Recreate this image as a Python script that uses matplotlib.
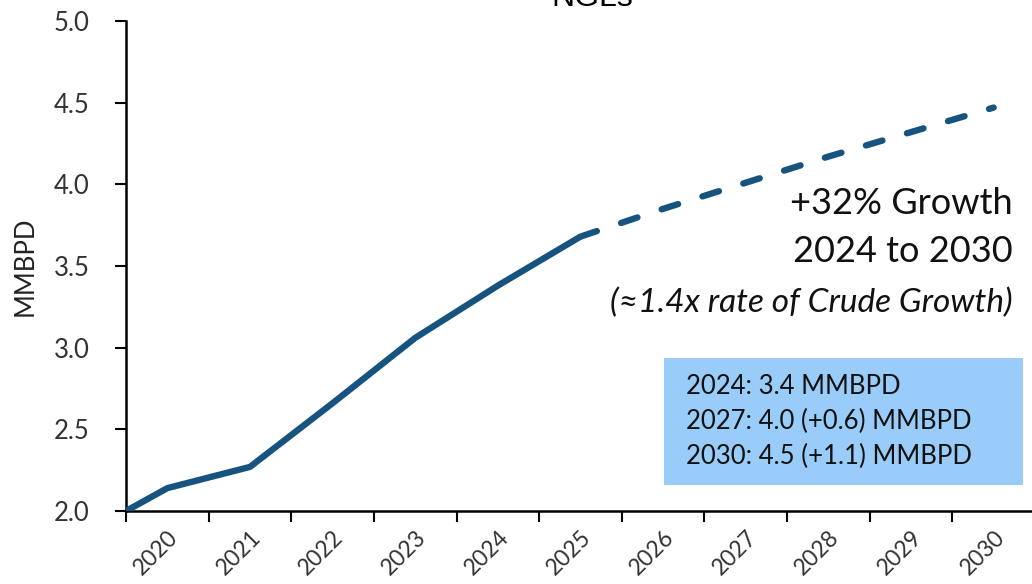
import matplotlib
matplotlib.use("Agg")
import matplotlib.pyplot as plt
from matplotlib.patches import Rectangle

# data (MMBPD)
actual_x = [2019.5, 2020, 2021, 2022, 2023, 2024, 2025]
actual_y = [2.00, 2.14, 2.27, 2.66, 3.06, 3.38, 3.68]
fcst_x = [2025, 2026, 2027, 2028, 2029, 2030]
fcst_y = [3.68, 3.85, 4.01, 4.17, 4.32, 4.47]
years = list(range(2020, 2031))
box_lines = ["2024: 3.4 MMBPD", "2027: 4.0 (+0.6) MMBPD", "2030: 4.5 (+1.1) MMBPD"]

plt.rcParams['font.family'] = ['Lato', 'DejaVu Sans']
navy = '#17537f'
W, H = 1032, 584

fig = plt.figure(figsize=(W / 100, H / 100), dpi=100)
ax = fig.add_axes([126 / W, (H - 511) / H, (1035 - 126) / W, (511 - 21) / H])
ax.set_facecolor('none')

ax.plot(actual_x, actual_y, color=navy, lw=4.6, solid_capstyle='butt', solid_joinstyle='round', zorder=3)
ax.plot(fcst_x, fcst_y, color=navy, lw=4.6, dashes=(2.7, 4.0), dash_capstyle='round', zorder=3)

ax.set_xlim(2019.5, 2030.5)
ax.set_ylim(2.0, 5.0)
ax.set_yticks([2.0, 2.5, 3.0, 3.5, 4.0, 4.5, 5.0])
ax.set_yticklabels(['%.1f' % v for v in ax.get_yticks()])
ax.set_xticks([y - 0.5 for y in years] + [2030.5])
ax.set_xticklabels([])
ax.set_xticks(years, minor=True)
ax.set_xticklabels([str(y) for y in years], minor=True, rotation=45,
                   ha='right', va='top', rotation_mode='anchor')
ax.tick_params(axis='x', which='minor', length=0, pad=11, labelsize=16.5, labelcolor='#333333')
ax.tick_params(axis='x', which='major', length=8, width=1.5, direction='out')
ax.tick_params(axis='y', length=8, width=1.5, direction='out', labelsize=18.5, labelcolor='#333333', pad=18)
for s in ['top', 'right']:
    ax.spines[s].set_visible(False)
for s in ['left', 'bottom']:
    ax.spines[s].set_linewidth(1.8)
ax.set_ylabel('MMBPD', fontsize=18.5, color='#222222', labelpad=12)

fig.text(592 / W, 1 - 6 / H, 'NGLs', family='Liberation Sans', fontsize=23,
         ha='center', va='baseline')

fig.text(1013 / W, 1 - 203 / H, '+32% Growth', fontsize=26, ha='right', va='center', color='#111111')
fig.text(1013 / W, 1 - 252 / H, '2024 to 2030', fontsize=26, ha='right', va='center', color='#111111')
fig.text(1013 / W, 1 - 303 / H, '(\u22481.4x rate of Crude Growth)', fontsize=24, style='italic',
         ha='right', va='center', color='#111111')

fig.add_artist(Rectangle((664 / W, 1 - 485 / H), (1023 - 664) / W, (485 - 358) / H,
                         transform=fig.transFigure, facecolor='#99ccf8', edgecolor='none', zorder=1))
for i, t in enumerate(box_lines):
    fig.text(686 / W, 1 - (386 + 35 * i) / H, t, fontsize=18.5, ha='left', va='center',
             color='#111111', zorder=2)

fig.savefig('out.png', dpi=100)
